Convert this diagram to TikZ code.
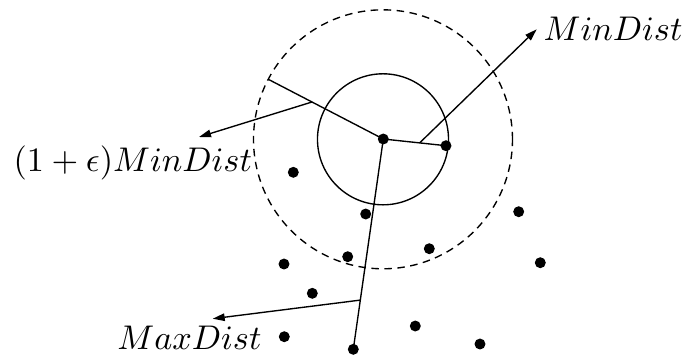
\documentclass[tikz,border=0pt]{standalone}
\usetikzlibrary{arrows.meta}
\begin{document}
\begin{tikzpicture}[x=0.292pt,y=-0.292pt,
  pt/.style={circle,fill=black,inner sep=0pt,minimum size=3.2pt},
  lbl/.style={anchor=base west,inner sep=0pt},
  conn/.style={line width=0.4pt},
  arr/.style={line width=0.4pt,-{Triangle[length=3.5pt,width=2.2pt]}},
  dashc/.style={line width=0.4pt,dash pattern=on 2.2pt off 1.6pt}]
\useasboundingbox (0,0) rectangle (684,356);
% circles
\coordinate (cc) at (383,139.3);
\draw[dashc] (cc) circle[radius=37.81pt];
\draw[conn] (cc) circle[radius=19.13pt];
% points
\node[pt] (c) at (383.3,139) {};
\node[pt] (p1) at (446,145.7) {};
\node[pt] (p2) at (293.3,172.3) {};
\node[pt] (p3) at (365.7,214) {};
\node[pt] (p4) at (518.7,211.7) {};
\node[pt] (p5) at (429.3,248.7) {};
\node[pt] (p6) at (347.7,256.7) {};
\node[pt] (p7) at (284,264) {};
\node[pt] (p8) at (540.3,262.7) {};
\node[pt] (p9) at (312.3,293.3) {};
\node[pt] (p10) at (284.3,336.7) {};
\node[pt] (p11) at (353.3,349.3) {};
\node[pt] (p12) at (415.3,326) {};
\node[pt] (p13) at (480,344) {};
% radius to dashed circle
\coordinate (r1) at (268.3,79.3);
\draw[conn] (c.center) -- (r1);
\draw[conn] (c.center) -- (p1.center);
\draw[conn] (c.center) -- (p11.center);
% arrow origins
\path (c.center) -- (r1) coordinate[pos=0.62] (a1);
\path (c.center) -- (p1.center) coordinate[pos=0.58] (a2);
\path (c.center) -- (p11.center) coordinate[pos=0.766] (a3);
% labels
\node[lbl] (l1) at (13,171.7) {$(1+\epsilon)MinDist$};
\node[lbl] (l2) at (543,40.7) {$MinDist$};
\node[lbl] (l3) at (116.7,349.3) {$MaxDist$};
\coordinate (t1) at (199,137);
\coordinate (t2) at (536.7,29.3);
\coordinate (t3) at (212.7,318.7);
\draw[arr] (a1) -- (t1);
\draw[arr] (a2) -- (t2);
\draw[arr] (a3) -- (t3);
\end{tikzpicture}
\end{document}
